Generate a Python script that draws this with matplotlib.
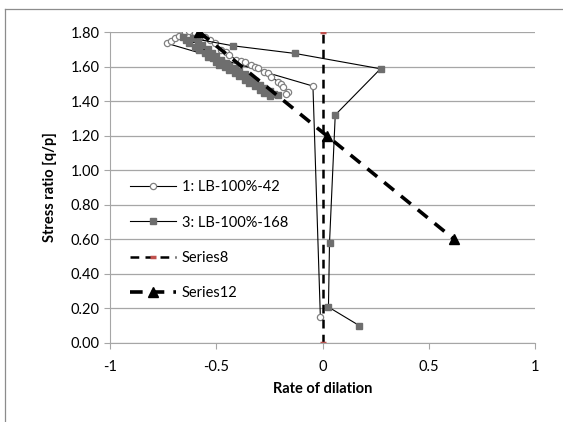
import numpy as np
import matplotlib.pyplot as plt
from matplotlib.lines import Line2D

plt.rcParams['font.family'] = ['Lato', 'DejaVu Sans']

# 1: LB-100%-42
s1_x = [-0.01, -0.045, -0.731, -0.712, -0.693, -0.673, -0.649, -0.626, -0.602, -0.580,
        -0.555, -0.530, -0.508, -0.477, -0.455, -0.438, -0.406, -0.385, -0.367, -0.336,
        -0.318, -0.304, -0.273, -0.255, -0.241, -0.210, -0.195, -0.187, -0.163, -0.170]
s1_y = [0.15, 1.487, 1.734, 1.748, 1.763, 1.778, 1.798, 1.806, 1.792, 1.785,
        1.773, 1.755, 1.734, 1.696, 1.685, 1.667, 1.638, 1.632, 1.624, 1.609,
        1.600, 1.590, 1.570, 1.560, 1.541, 1.512, 1.500, 1.483, 1.454, 1.440]

# 3: LB-100%-168
s3_x = [0.174, 0.028, 0.033, 0.06, 0.273, -0.13, -0.42, -0.657, -0.641, -0.610,
        -0.626, -0.587, -0.602, -0.565, -0.579, -0.540, -0.555, -0.520, -0.540, -0.500,
        -0.516, -0.478, -0.500, -0.455, -0.485, -0.438, -0.461, -0.414, -0.438, -0.391,
        -0.414, -0.367, -0.391, -0.344, -0.367, -0.320, -0.344, -0.296, -0.320, -0.273,
        -0.296, -0.249, -0.273, -0.226, -0.249, -0.210]
s3_y = [0.10, 0.208, 0.58, 1.32, 1.587, 1.676, 1.72, 1.773, 1.753, 1.763,
        1.734, 1.745, 1.715, 1.722, 1.696, 1.700, 1.676, 1.680, 1.657, 1.660,
        1.648, 1.640, 1.628, 1.620, 1.609, 1.605, 1.599, 1.590, 1.580, 1.572,
        1.565, 1.555, 1.545, 1.535, 1.525, 1.515, 1.505, 1.495, 1.485, 1.476,
        1.466, 1.458, 1.447, 1.440, 1.430, 1.436]

# Series8
s8_x = [0.0, 0.0]
s8_y = [0.0, 1.8]

# Series12
s12_x = [-0.58, 0.02, 0.62]
s12_y = [1.80, 1.20, 0.60]

fig = plt.figure(figsize=(5.63, 4.22), dpi=100)
ax = fig.add_axes([110 / 563, 1 - 343 / 422, 425 / 563, 311 / 422])

ax.plot(s1_x, s1_y, color='black', lw=0.8, marker='o', ms=4.5, mfc='white',
        mec='#808080', mew=0.9, label='1: LB-100%-42')
ax.plot(s3_x, s3_y, color='black', lw=0.8, marker='s', ms=3.8, mfc='#6e6e6e',
        mec='#6e6e6e', label='3: LB-100%-168')
ax.plot(s8_x, s8_y, color='black', lw=1.8, ls=(0, (3.5, 2.5)), marker='_', ms=5,
        mec='#c0504d', mew=2.5, label='Series8')
ax.plot(s12_x, s12_y, color='black', lw=2.6, ls=(0, (3.5, 2.5)), marker='^', ms=7.5,
        mfc='black', mec='black', label='Series12')

ax.set_xlim(-1, 1)
ax.set_ylim(0, 1.8)
ax.set_xticks([-1, -0.5, 0, 0.5, 1])
ax.set_xticklabels(['-1', '-0.5', '0', '0.5', '1'])
ax.set_yticks(np.arange(0, 1.81, 0.2))
ax.set_yticklabels([f'{v:.2f}' for v in np.arange(0, 1.81, 0.2)])
ax.grid(axis='y', color='#a6a6a6', lw=0.9)
ax.set_axisbelow(True)
for side in ['top', 'right']:
    ax.spines[side].set_visible(False)
for side in ['left', 'bottom']:
    ax.spines[side].set_color('#a6a6a6')
ax.tick_params(colors='#a6a6a6', labelcolor='black', labelsize=10.5, length=4)
ax.tick_params(axis='x', pad=8)

ax.set_xlabel('Rate of dilation', fontsize=10.5, fontweight='bold', labelpad=6)
ax.set_ylabel('Stress ratio [q/p]', fontsize=10.5, fontweight='bold', labelpad=10)

ax.legend(loc='upper left', bbox_to_anchor=(0.015, 0.565), frameon=False, fontsize=10.5,
          handlelength=3.2, labelspacing=1.45, handletextpad=0.4)

# chart area border
fig.add_artist(Line2D([5 / 563, 5 / 563], [0, 1 - 9 / 422], color='#8c8c8c', lw=0.9))
fig.add_artist(Line2D([5 / 563, 1], [1 - 9 / 422, 1 - 9 / 422], color='#8c8c8c', lw=0.9))

plt.savefig('out.png')
